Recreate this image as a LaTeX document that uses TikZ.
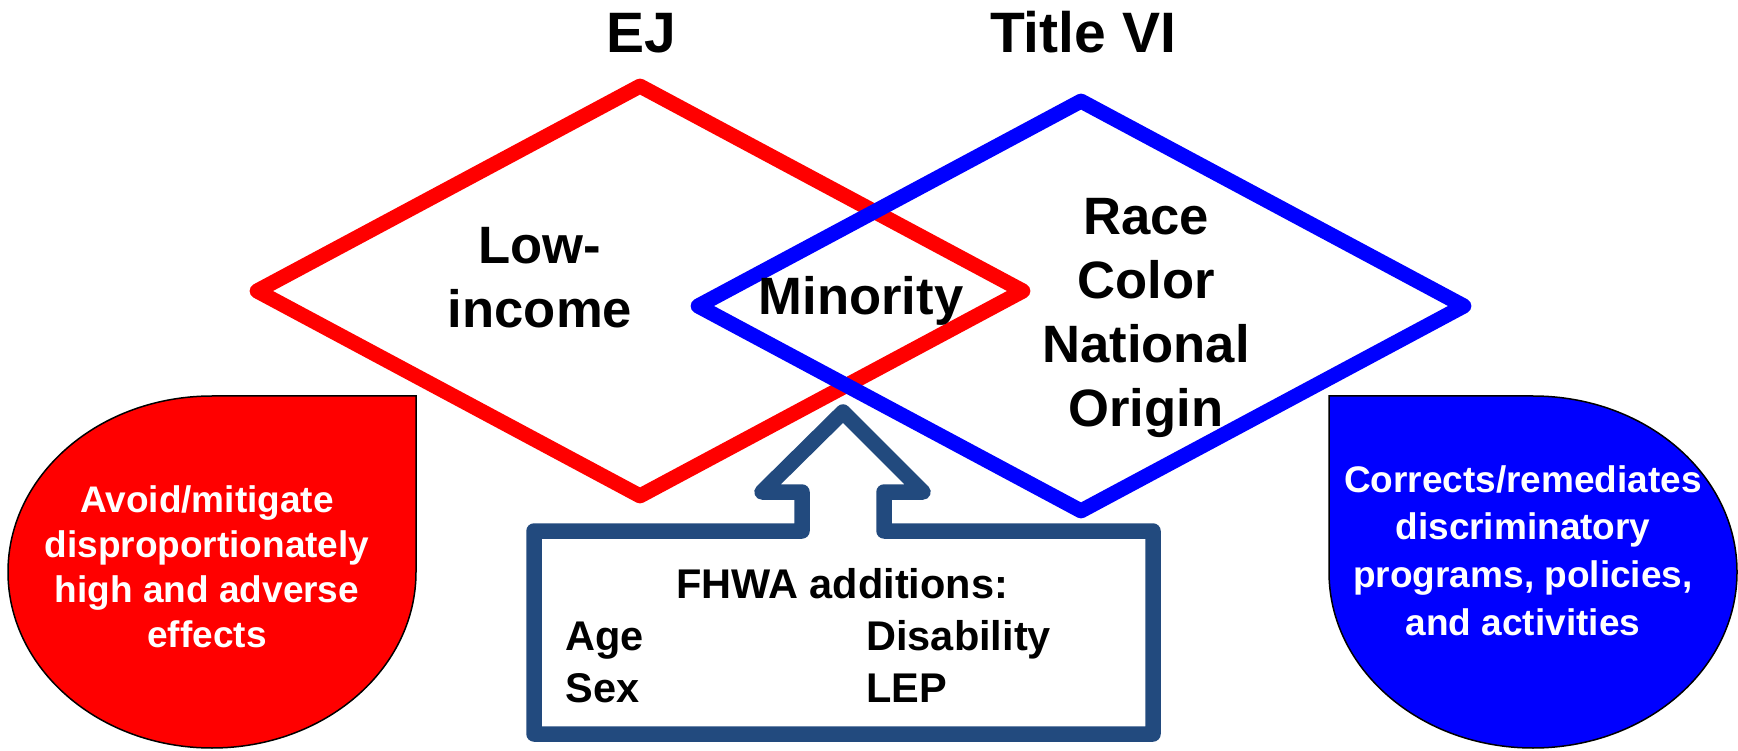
\documentclass[tikz,border=0pt]{standalone}
\usepackage{fontspec}
\setmainfont{Liberation Sans}
\usetikzlibrary{shapes.geometric}
\definecolor{boxblue}{RGB}{34,74,126}

\begin{document}
\begin{tikzpicture}[x=0.5pt, y=0.5pt,
    heading/.style={font=\fontsize{28.5}{34}\selectfont\bfseries, anchor=base, inner sep=0},
    word/.style={font=\fontsize{26.3}{32}\selectfont\bfseries, align=center, anchor=base, inner sep=0},
    rhomb/.style={diamond, minimum width=386pt, minimum height=208pt, inner sep=0, line width=7.5pt, line join=round},
    drop/.style={draw=black, line width=0.75pt},
    droptext/.style={font=\fontsize{18.5}{22.5}\selectfont\bfseries, text=white, align=center, anchor=base, inner sep=0},
    extra/.style={font=\fontsize{20.75}{26}\selectfont\bfseries, inner sep=0}]
    \fill[white] (0,0) rectangle (1738,750);

    \node[rhomb, draw=red] at (640,459)(ej){};
    \node[rhomb, draw=blue] at (1081,444)(tvi){};

    \draw[drop, fill=red] (212,354) -- (416,354) -- (416,178)
        arc[start angle=0, end angle=-270, x radius=102pt, y radius=88pt] -- cycle;
    \draw[drop, fill=blue] (1533,354) -- (1329,354) -- (1329,178)
        arc[start angle=180, end angle=450, x radius=102pt, y radius=88pt] -- cycle;

    \draw[line width=7.75pt, draw=boxblue, fill=white, line join=round]
        (802,219) -- (802,258) -- (762,258) -- (843,338) -- (923,258) -- (884,258)
        -- (884,219) -- (1153,219) -- (1153,16) -- (534,16) -- (534,219) -- cycle;

    % multi-line nodes sit on their last line
    \node[heading] at (641,697)(ejtitle){EJ};
    \node[heading] at (1083,697)(tvititle){Title VI};
    \node[word] at (540,422)(lowinc){Low-\\income};
    \node[word] at (861,435)(minor){Minority};
    \node[word] at (1146,323)(race){Race\\Color\\National\\Origin};

    \node[droptext] at (207,103)(avoid){Avoid/mitigate\\disproportionately\\high and adverse\\effects};
    \node[droptext, font=\fontsize{18.5}{23.8}\selectfont\bfseries] at (1523,115)(correct){Corrects/remediates\\discriminatory\\programs, policies,\\and activities};

    \node[extra, anchor=base] at (842,152)(fhwa){FHWA additions:};
    \node[extra, anchor=base west, align=left] at (565,48)(agesex){Age\\Sex};
    \node[extra, anchor=base west, align=left] at (866,48)(dislep){Disability\\LEP};
\end{tikzpicture}
\end{document}
